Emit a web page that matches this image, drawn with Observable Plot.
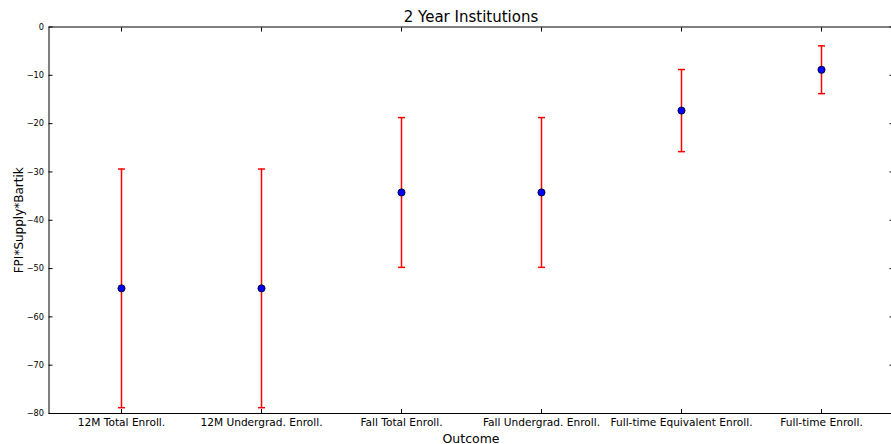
<!DOCTYPE html>
<html><head><meta charset="utf-8">
<script src="https://cdn.jsdelivr.net/npm/d3@7"></script>
<script src="https://cdn.jsdelivr.net/npm/@observablehq/plot@0.6"></script>
<style>body{margin:0;background:#fff;overflow:hidden}svg{display:block}</style>
</head><body><div id="chart"></div>
<script>
const outcomes = ["12M Total Enroll.", "12M Undergrad. Enroll.", "Fall Total Enroll.", "Fall Undergrad. Enroll.", "Full-time Equivalent Enroll.", "Full-time Enroll."];
const estimates = [-54.1, -54.1, -34.25, -34.25, -17.3, -8.85];
const errors = [24.7, 24.7, 15.5, 15.5, 8.5, 4.95];
const yTicks = [0, -10, -20, -30, -40, -50, -60, -70, -80];
const titleText = "2 Year Institutions";
const xLabel = "Outcome";
const yLabel = "FPI*Supply*Bartik";

const data = outcomes.map((o, i) => ({outcome: o, est: estimates[i], lo: estimates[i] - errors[i], hi: estimates[i] + errors[i]}));
const font = "DejaVu Sans, sans-serif";
const capSymbol = {draw(ctx, size) { const w = 3.5; ctx.moveTo(-w, 0); ctx.lineTo(w, 0); }};

const chart = Plot.plot({
  width: 891, height: 444,
  marginLeft: 48.5, marginRight: -1.5, marginTop: 26.5, marginBottom: 31,
  style: {fontFamily: font, fontSize: "10px", color: "#000", background: "#fff", overflow: "hidden"},
  x: {type: "point", domain: outcomes, padding: 0.5},
  y: {domain: [-80, 0]},
  marks: [
    Plot.axisX({anchor: "bottom", tickSize: -4, tickPadding: 9, fontSize: 10.6, label: null}),
    Plot.axisX({anchor: "top", tickSize: -4, tickFormat: () => "", label: null}),
    Plot.axisY({anchor: "left", ticks: yTicks, tickSize: -4, tickPadding: 9, tickFormat: d3.format("d"), fontSize: 8.2, label: null}),
    Plot.axisY({anchor: "right", ticks: yTicks, tickSize: -4, tickFormat: () => "", label: null}),
    Plot.ruleX(data, {x: "outcome", y1: "lo", y2: "hi", stroke: "#ff0000", strokeWidth: 1.5}),
    Plot.dot(data, {x: "outcome", y: "lo", symbol: capSymbol, stroke: "#ff0000", strokeWidth: 1.5, fill: "none"}),
    Plot.dot(data, {x: "outcome", y: "hi", symbol: capSymbol, stroke: "#ff0000", strokeWidth: 1.5, fill: "none"}),
    Plot.dot(data, {x: "outcome", y: "est", r: 3.6, fill: "#0000ff", stroke: "#000", strokeWidth: 0.8}),
    Plot.frame({stroke: "#000", strokeWidth: 1}),
    Plot.text([titleText], {frameAnchor: "top", lineAnchor: "bottom", textAnchor: "middle", dy: -5.5, fontSize: 15, fill: "#000"}),
    Plot.text([xLabel], {frameAnchor: "bottom", lineAnchor: "bottom", textAnchor: "middle", dy: 29, fontSize: 12.5, fill: "#000"}),
    Plot.text([yLabel], {frameAnchor: "left", lineAnchor: "bottom", textAnchor: "middle", rotate: -90, dx: -26, fontSize: 12, fill: "#000"})
  ]
});
document.getElementById("chart").appendChild(chart);
</script></body></html>
